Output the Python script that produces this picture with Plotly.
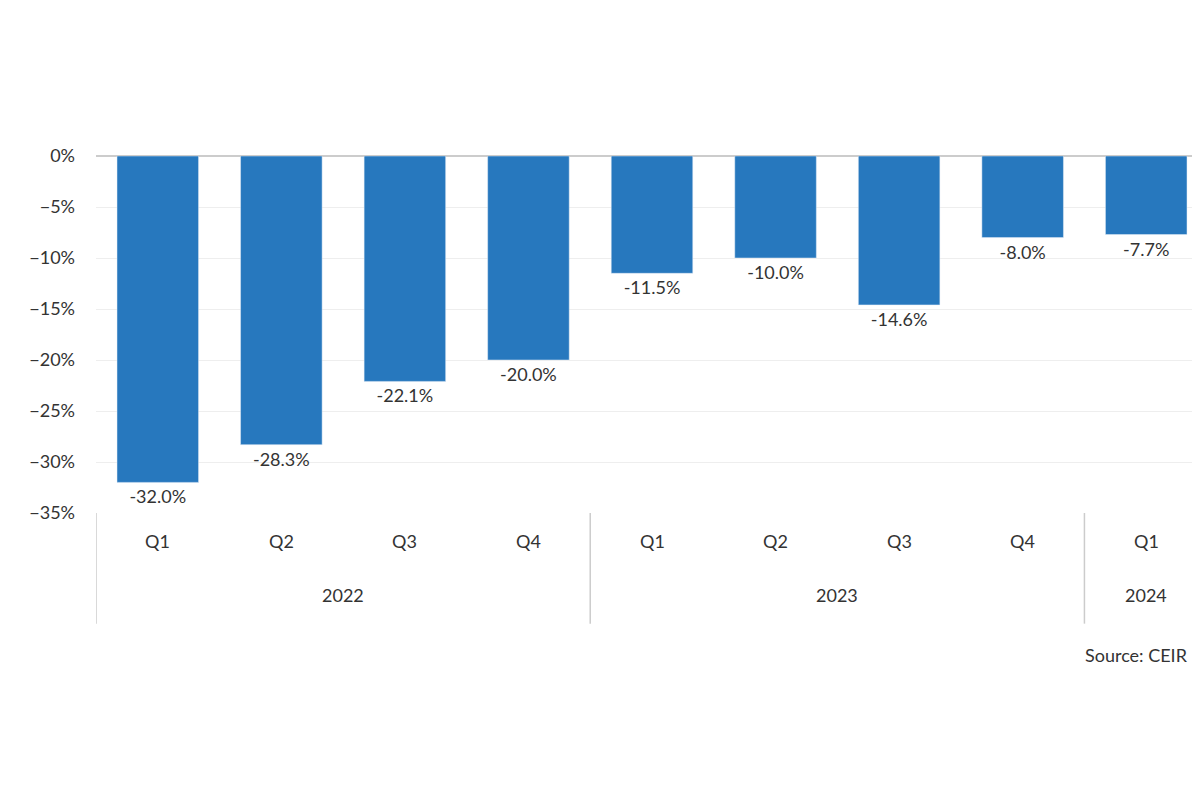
import plotly.graph_objects as go

quarters = ["Q1", "Q2", "Q3", "Q4", "Q1", "Q2", "Q3", "Q4", "Q1"]
years = ["2022", "2023", "2024"]
year_spans = [(0, 3), (4, 7), (8, 8)]
values = [-32.0, -28.3, -22.1, -20.0, -11.5, -10.0, -14.6, -8.0, -7.7]

xs = list(range(len(values)))
font_color = "#333333"

fig = go.Figure(go.Bar(
    x=xs, y=values, width=0.66,
    marker_color="rgb(39,120,190)",
    text=["%.1f%%" % v for v in values], textposition="outside",
    textfont=dict(size=18, color=font_color), cliponaxis=False,
))

shapes = []
for sep in [-0.5, 3.5, 7.5]:
    shapes.append(dict(type="line", xref="x", yref="paper", x0=sep, x1=sep,
                       y0=0, y1=-0.31, line=dict(color="#cccccc", width=1.5)))

annotations = []
for q, x in zip(quarters, xs):
    annotations.append(dict(x=x, y=-0.115, xref="x", yref="paper", text=q,
                            showarrow=False, font=dict(size=18, color=font_color)))
for yr, (a, b) in zip(years, year_spans):
    annotations.append(dict(x=(a + b) / 2, y=-0.265, xref="x", yref="paper", text=yr,
                            showarrow=False, font=dict(size=18, color=font_color)))
annotations.append(dict(x=1182, y=660, xref="paper", yref="paper", text="Source: CEIR",
                        showarrow=False, xanchor="right", font=dict(size=18, color=font_color)))
annotations[-1].update(x=0.984, y=-0.435)

fig.update_layout(
    width=1200, height=800,
    margin=dict(l=88, r=0, t=148, b=295),
    plot_bgcolor="white", paper_bgcolor="white",
    font=dict(family="Lato", color=font_color),
    showlegend=False, bargap=0.34,
    xaxis=dict(range=[-0.5, 8.5], showticklabels=False, showgrid=False, zeroline=False),
    yaxis=dict(range=[-35, 0], dtick=5, ticksuffix="%", gridcolor="#eeeeee",
               zeroline=True, zerolinecolor="#cccccc", zerolinewidth=1.5,
               tickfont=dict(size=18, color=font_color), ticks="", ticklabelstandoff=20),
    shapes=shapes, annotations=annotations,
)

fig.write_html("out.html")
